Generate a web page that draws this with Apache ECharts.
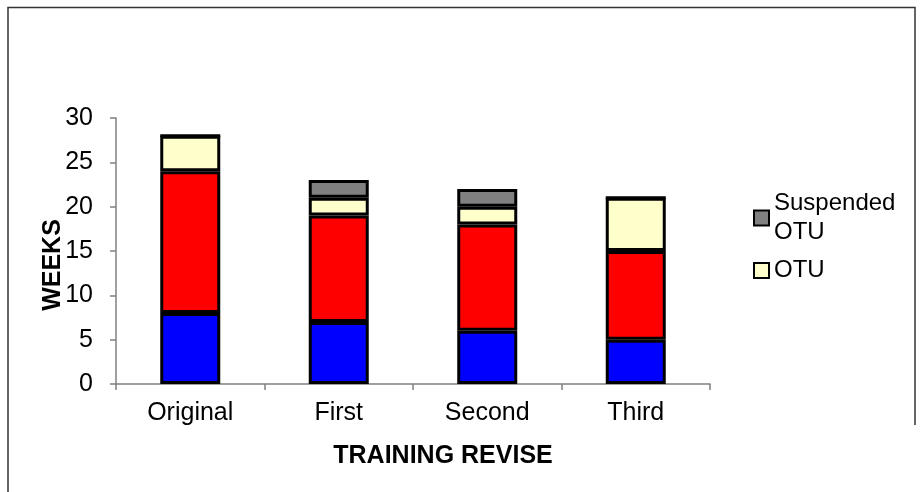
<!DOCTYPE html>
<html>
<head>
<meta charset="utf-8">
<script src="https://cdn.jsdelivr.net/npm/echarts@6/dist/echarts.min.js"></script>
<style>
html,body{margin:0;padding:0;background:#fff;}
#chart{width:923px;height:492px;}
</style>
</head>
<body>
<div id="chart"></div>
<script>
var categories = ['Original', 'First', 'Second', 'Third'];
var seriesNames = ['Classroom', 'Flight', 'OTU', 'Suspended OTU'];
var classroomWeeks = [8, 7, 6, 5];
var flightWeeks = [16, 12, 12, 10];
var otuWeeks = [4, 2, 2, 6];
var suspendedOtuWeeks = [0, 2, 2, 0];
var legendEntries = ['Suspended OTU', 'OTU'];
var yTicks = {min: 0, max: 30, interval: 5};

var colors = ['#0000FF', '#FF0000', '#FFFFCC', '#808080'];
var values = [classroomWeeks, flightWeeks, otuWeeks, suspendedOtuWeeks];
var FONT = 'Liberation Sans, Arial, sans-serif';

var chart = echarts.init(document.getElementById('chart'));
var series = seriesNames.map(function (n, i) {
  return {
    name: n,
    type: 'bar',
    stack: 'weeks',
    barWidth: 60,
    data: values[i],
    itemStyle: {color: colors[i], borderColor: '#000', borderWidth: 3},
    emphasis: {disabled: true}
  };
});

chart.setOption({
  animation: false,
  backgroundColor: '#fff',
  textStyle: {fontFamily: FONT},
  grid: {left: 116, top: 118, width: 594, height: 266, containLabel: false},
  legend: {
    data: legendEntries,
    orient: 'vertical',
    left: 753,
    top: 189,
    padding: 0,
    itemGap: 9,
    itemWidth: 15,
    itemHeight: 15,
    icon: 'rect',
    selectedMode: false,
    itemStyle: {borderColor: '#000', borderWidth: 2},
    formatter: function (n) { return n.replace(' ', '\n'); },
    textStyle: {fontFamily: FONT, fontSize: 24, color: '#000', lineHeight: 29}
  },
  xAxis: {
    type: 'category',
    data: categories,
    boundaryGap: true,
    axisLine: {lineStyle: {color: '#808080', width: 1.5}},
    axisTick: {show: true, length: 6, lineStyle: {color: '#808080', width: 1.5}},
    axisLabel: {fontFamily: FONT, fontSize: 25, color: '#000', margin: 17},
    name: 'TRAINING REVISE',
    nameLocation: 'middle',
    nameMoveOverlap: false,
    nameGap: 60,
    nameTextStyle: {fontFamily: FONT, fontSize: 25, fontWeight: 'bold', color: '#000', padding: [0, 0, 0, 60]}
  },
  yAxis: {
    type: 'value',
    min: yTicks.min,
    max: yTicks.max,
    interval: yTicks.interval,
    splitLine: {show: false},
    axisLine: {show: true, lineStyle: {color: '#808080', width: 1.5}},
    axisTick: {show: true, length: 6, lineStyle: {color: '#808080', width: 1.5}},
    axisLabel: {fontFamily: FONT, fontSize: 25, color: '#000', margin: 23},
    name: 'WEEKS',
    nameLocation: 'middle',
    nameMoveOverlap: false,
    nameGap: 50,
    nameTextStyle: {fontFamily: FONT, fontSize: 25, fontWeight: 'bold', color: '#000', padding: [0, 28, 0, 0]}
  },
  graphic: [{
    type: 'polyline',
    silent: true,
    shape: {points: [[8, 492], [8, 7.5], [915, 7.5], [915, 425]]},
    style: {stroke: '#333', lineWidth: 1.5, fill: null}
  }],
  series: series
});
</script>
</body>
</html>
